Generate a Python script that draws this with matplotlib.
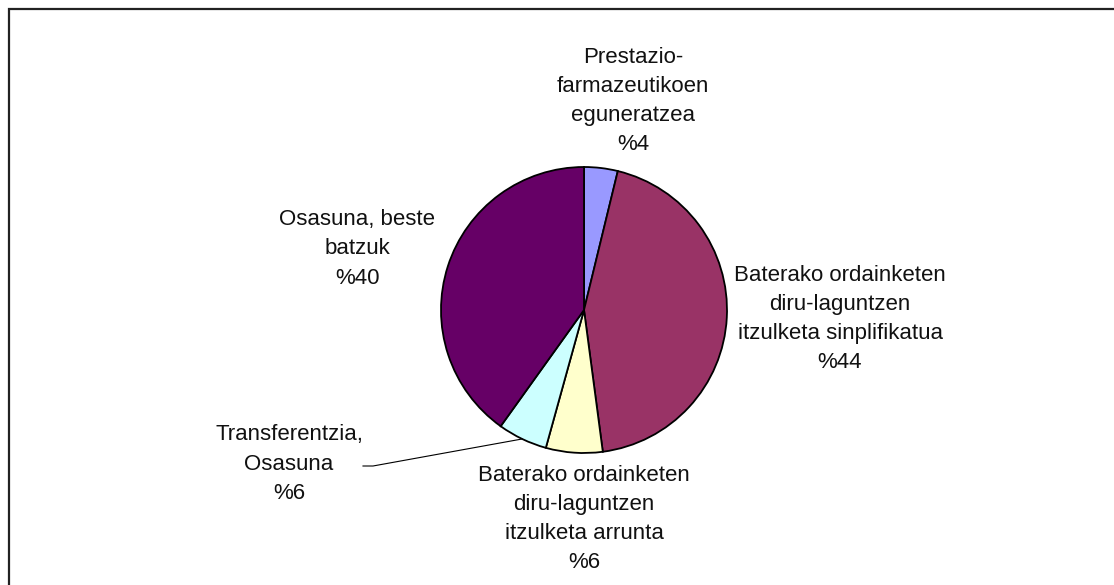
import matplotlib
matplotlib.use("Agg")
import matplotlib.pyplot as plt
from matplotlib.patches import Rectangle

# Data
categories = [
    "Prestazio-\nfarmazeutikoen\neguneratzea",
    "Baterako ordainketen\ndiru-laguntzen\nitzulketa sinplifikatua",
    "Baterako ordainketen\ndiru-laguntzen\nitzulketa arrunta",
    "Transferentzia,\nOsasuna",
    "Osasuna, beste\nbatzuk",
]
values = [3.8, 44.1, 6.4, 5.6, 40.1]
pct_labels = ["%4", "%44", "%6", "%6", "%40"]
colors = ["#9999FF", "#993366", "#FFFFCC", "#CCFFFF", "#660066"]

W, H = 1114, 585
plt.rcParams['font.family'] = ['Liberation Sans', 'DejaVu Sans']

fig = plt.figure(figsize=(W / 100, H / 100), dpi=100)
ax = fig.add_axes([0, 0, 1, 1])
ax.set_xlim(0, W)
ax.set_ylim(0, H)
ax.set_aspect('equal')
ax.axis('off')

cx, cy, r = 584, H - 310, 143
ax.pie(values, colors=colors, startangle=90, counterclock=False,
       center=(cx, cy), radius=r,
       wedgeprops=dict(edgecolor='black', linewidth=1.3))
ax.set_xlim(0, W)
ax.set_ylim(0, H)

# label positions (pixel coords, y from top)
label_pos = [(633, 101), (840, 319), (584, 519), (289, 464), (357, 249)]
for cat, pct, (lx, ly) in zip(categories, pct_labels, label_pos):
    ax.text(lx, H - ly, cat + "\n" + pct, ha='center', va='center',
            fontsize=16, linespacing=1.52, color='#111111')

# leader line for Transferentzia
ax.plot([363, 373, 522], [H - 466, H - 466, H - 439], color='black', lw=0.8)

# frame
fig.patches.append(Rectangle((8.5 / W, -0.2), 2.0, 1.2 - 8.5 / H,
                             transform=fig.transFigure, fill=False,
                             edgecolor='#222222', linewidth=1.6))

fig.savefig("out.png", dpi=100, facecolor='white')
